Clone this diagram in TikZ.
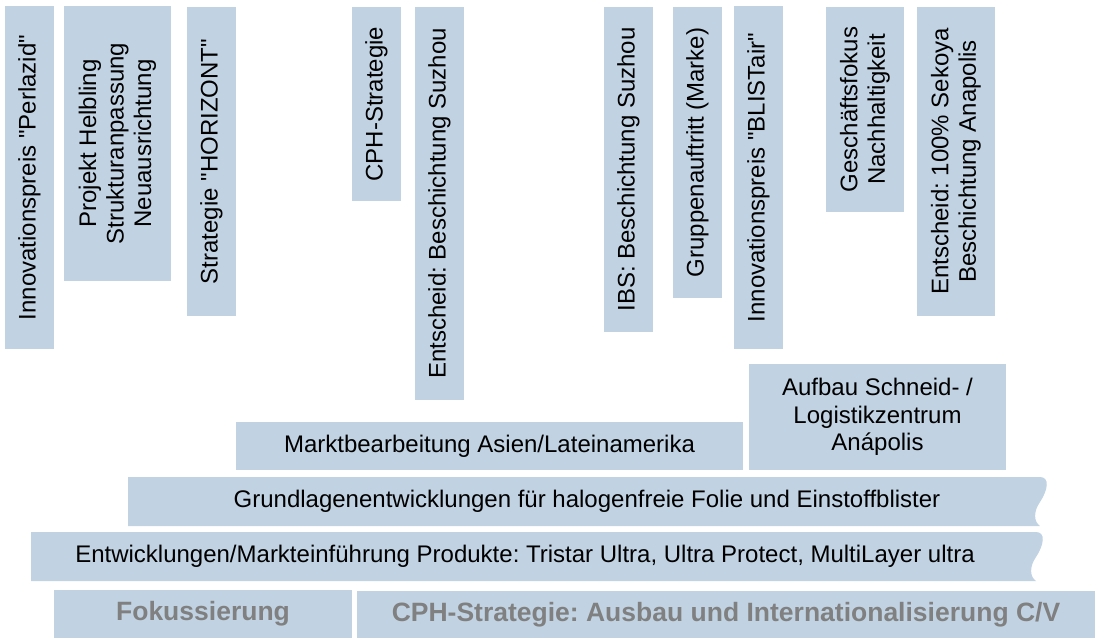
\documentclass[tikz,border=0pt]{standalone}
\usepackage{fontspec}
\setmainfont{Liberation Sans}[Ligatures=TeXOff]
\frenchspacing
\definecolor{mBoxBlue}{HTML}{C1D3E3}
\definecolor{mTextGrey}{HTML}{808080}
\usepackage{tikz}
\usetikzlibrary{positioning}

\begin{document}
\begin{tikzpicture}[x=1pt, y=-1pt, font=\fontsize{24}{27.5}\selectfont,
  barbox/.style={fill=mBoxBlue, inner sep=0pt, align=center},
  eventbox/.style={barbox, rotate=90},
  phasebox/.style={barbox, text=mTextGrey, font=\fontsize{26.5}{30}\selectfont\bfseries}]
\useasboundingbox (0,0) rectangle (1095,638);
% events
\node[eventbox, minimum width=343pt, minimum height=49pt] (perlazid) at (29.5,177.5) {Innovationspreis "Perlazid"};
\node[eventbox, minimum width=275pt, minimum height=107pt] (helbling) at (117.5,143.5) {Projekt Helbling\\Strukturanpassung\\Neuausrichtung};
\node[eventbox, minimum width=309pt, minimum height=49pt] (horizont) at (211.5,161.5) {Strategie "HORIZONT"};
\node[eventbox, minimum width=194pt, minimum height=49pt] (cph) at (376.5,104) {CPH-Strategie};
\node[eventbox, minimum width=393pt, minimum height=49pt] (suzhou) at (439.5,203.5) {Entscheid: Beschichtung Suzhou};
\node[eventbox, minimum width=325pt, minimum height=49pt] (ibs) at (628.5,169.5) {IBS: Beschichtung Suzhou};
\node[eventbox, minimum width=291pt, minimum height=49pt] (marke) at (697.5,152.5) {Gruppenauftritt (Marke)};
\node[eventbox, minimum width=343pt, minimum height=49pt] (blistair) at (758.5,177.5) {Innovationspreis "BLISTair"};
\node[eventbox, minimum width=205pt, minimum height=78pt] (nachhaltig) at (865,109.5) {Geschäftsfokus\\Nachhaltigkeit};
\node[eventbox, minimum width=309pt, minimum height=78pt] (sekoya) at (956,161.5) {Entscheid: 100\% Sekoya\\Beschichtung Anapolis};
% projects
\node[barbox, minimum width=507pt, minimum height=48pt] (asien) at (489.5,446) {Marktbearbeitung Asien/Lateinamerika};
\node[barbox, minimum width=257pt, minimum height=106pt] (anapolis) at (877.5,417) {Aufbau Schneid- /\\Logistikzentrum\\Anápolis};
\fill[mBoxBlue] (128,477) -- (1040,477) .. controls (1050,477) and (1048,490) .. (1040,502) .. controls (1033,512) and (1034,522) .. (1040,526) -- (128,526) -- cycle;
\node[inner sep=0pt] (grundlagen) at (587,501.5) {Grundlagenentwicklungen für halogenfreie Folie und Einstoffblister};
\fill[mBoxBlue] (31,532) -- (1036,532) .. controls (1046,532) and (1044,545) .. (1036,557) .. controls (1029,567) and (1030,577) .. (1036,581) -- (31,581) -- cycle;
\node[inner sep=0pt] (entwicklung) at (525,556.5) {Entwicklungen/Markteinführung Produkte: Tristar Ultra, Ultra Protect, MultiLayer ultra};
% phases
\node[phasebox, minimum width=298pt, minimum height=48pt] (fokus) at (203,614) {Fokussierung};
\node[phasebox, minimum width=738pt, minimum height=47pt] (ausbau) at (726,614.5) {CPH-Strategie: Ausbau und Internationalisierung C/V};
\end{tikzpicture}
\end{document}
